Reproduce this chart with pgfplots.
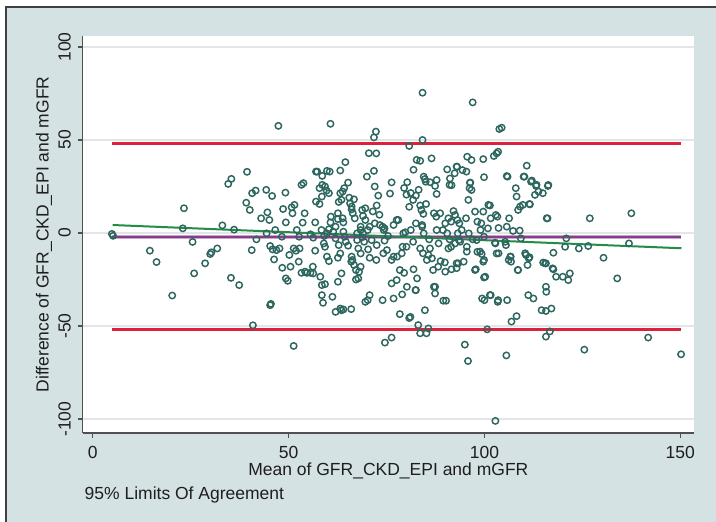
\documentclass[border=0pt]{standalone}
\usepackage{pgfplots}
\pgfplotsset{compat=1.18}
\usepackage{pgfplotstable}
\usepackage{fontspec}
\setmainfont{Liberation Sans}

\definecolor{bgblue}{RGB}{213,226,227}
\definecolor{marker}{RGB}{44,102,94}
\definecolor{loared}{RGB}{220,34,58}
\definecolor{meanpurple}{RGB}{135,60,140}
\definecolor{fitgreen}{RGB}{35,140,70}
\definecolor{gridgray}{RGB}{226,230,232}
\definecolor{axgray}{RGB}{80,80,80}
\definecolor{txt}{RGB}{30,30,30}

\newcommand{\lbl}{\fontsize{17.5bp}{20bp}\selectfont}

% mean (x) and difference (y)
\pgfplotstableread{
x y
4.9 -0.5
5.2 -1.5
14.6 -9.5
16.3 -15.6
20.3 -33.6
23.3 13.3
23.0 2.5
25.5 -4.8
25.9 -21.7
28.7 -16.3
30.0 -11.3
30.3 -10.4
31.8 -8.3
33.1 4.1
34.6 26.4
35.4 29.1
36.1 1.8
35.3 -24.1
37.4 -28.0
39.4 32.9
39.2 16.3
40.1 12.4
40.7 21.4
41.6 22.8
40.6 -9.2
41.8 -3.4
40.9 -49.6
43.0 7.9
44.3 23.2
45.8 19.9
44.6 11.1
45.1 7.0
44.4 -0.2
45.3 -7.0
45.9 -8.8
46.3 -14.2
45.5 -38.1
45.3 -38.8
46.6 1.6
46.9 -9.2
47.4 57.6
47.7 -8.3
48.4 -18.7
49.2 21.7
48.6 12.9
49.3 5.7
48.3 -2.0
49.3 -24.4
49.8 -25.7
50.2 -11.8
50.5 -18.1
50.8 13.8
51.5 15.1
51.3 -60.7
51.0 10.6
51.3 -8.3
51.9 -9.5
52.8 -8.3
52.6 -15.4
53.3 25.9
53.8 26.8
54.1 10.6
53.6 5.6
52.1 1.6
52.7 -2.0
53.3 -21.4
54.2 -20.8
54.7 -21.4
55.6 -21.4
56.2 -18.1
56.3 -21.7
56.8 -9.5
55.6 -0.7
56.3 -2.5
56.8 5.7
57.0 16.9
57.0 33.0
57.3 33.0
57.9 15.6
58.5 19.6
58.6 25.9
57.9 24.1
59.3 25.0
59.7 22.8
58.6 30.7
59.8 33.4
60.3 21.4
60.7 58.7
60.5 33.0
58.4 1.6
59.1 -1.6
59.8 -0.2
60.3 2.0
60.7 5.7
60.8 8.8
59.0 -5.6
59.3 -7.4
59.8 -12.7
60.3 -15.1
58.1 -23.5
58.5 -28.0
58.5 -33.4
58.8 -37.5
59.3 -27.5
61.2 -34.3
62.0 -42.4
62.6 -13.3
63.2 -11.0
62.8 -6.5
63.5 -21.7
62.6 -26.2
63.2 -40.6
63.5 -41.5
64.0 -41.1
63.2 33.6
62.8 16.7
63.2 21.4
63.8 22.3
64.2 24.1
63.5 17.8
62.6 7.5
62.6 10.6
63.8 7.9
64.0 5.7
62.0 3.4
61.4 0.7
62.0 -2.9
64.0 0.7
64.3 -2.0
64.6 -4.7
65.2 -6.8
64.5 38.1
65.2 27.1
65.5 19.0
65.7 16.0
66.1 14.2
66.7 18.1
66.1 12.7
66.4 10.6
66.9 7.9
66.1 -12.7
66.3 -14.5
66.7 -17.2
66.0 -15.4
66.0 -40.9
67.2 -19.9
67.8 -24.4
67.2 -25.0
68.0 -20.8
68.4 -18.1
68.4 -11.0
67.8 -8.3
67.5 -3.8
67.5 -0.2
68.4 1.6
68.4 3.4
69.0 -0.2
68.8 -2.3
69.3 -4.7
69.6 7.0
69.0 9.2
69.6 13.3
68.8 12.4
70.0 30.3
69.6 -37.0
70.2 -36.1
70.7 -33.4
70.7 -13.3
70.3 -8.8
70.2 1.6
70.7 3.4
70.5 42.9
84.2 75.4
97.0 70.2
72.3 54.5
71.8 51.4
84.2 50.0
103.8 55.9
104.4 56.6
80.8 46.8
72.4 42.8
86.5 40.1
95.6 41.0
96.7 39.2
99.7 39.7
102.4 41.4
103.1 42.8
103.5 43.7
82.7 39.3
81.9 34.0
71.8 33.4
90.5 34.2
93.0 35.6
94.4 33.8
92.4 32.1
95.4 33.0
110.8 36.2
99.9 30.0
105.7 30.6
110.0 30.3
111.9 27.6
113.2 25.3
116.3 25.8
72.0 25.0
76.3 27.2
80.3 27.3
84.8 29.0
86.1 27.3
87.8 28.5
87.4 25.3
91.2 29.3
91.6 25.7
96.3 27.0
96.7 23.1
72.9 20.1
75.9 21.2
79.5 24.2
80.1 20.6
81.2 21.5
82.5 20.1
87.8 21.0
108.0 24.1
108.2 19.6
112.9 20.5
113.8 22.3
114.9 21.4
72.5 14.8
71.5 11.6
73.2 9.8
80.8 14.1
83.6 14.8
83.9 12.4
84.4 10.3
88.7 10.6
92.1 11.8
92.5 9.7
95.9 17.8
97.6 11.5
99.7 11.5
101.4 14.8
102.9 9.7
103.3 8.8
109.1 14.2
109.8 15.1
111.6 15.4
116.1 7.9
77.6 7.0
76.8 4.3
82.5 5.2
90.8 7.9
93.6 5.2
94.2 1.6
99.2 5.2
100.9 2.5
103.6 2.7
107.3 1.1
72.0 5.2
73.3 4.3
74.5 2.5
79.3 -0.2
84.1 3.4
84.5 -0.2
87.8 1.6
90.0 5.2
90.5 -0.2
93.2 -0.2
96.0 -0.2
98.0 -3.8
99.9 -2.0
102.7 -5.2
105.3 -4.7
109.3 -2.9
120.6 -7.4
71.2 -3.8
72.5 -6.5
75.1 -9.2
74.2 -10.9
72.4 -14.5
76.3 -14.5
78.9 -10.9
80.1 -7.4
81.8 -4.7
83.6 -8.3
84.3 -10.9
86.1 -8.3
86.6 -13.6
88.3 -5.6
90.8 -8.3
92.5 -5.6
93.8 -4.7
95.5 -10.0
98.9 -10.0
99.9 -14.5
103.6 -10.9
106.7 -12.7
106.2 -14.5
110.4 -10.9
111.5 -13.0
115.0 -15.9
117.6 -10.6
78.4 -19.9
81.9 -19.5
82.8 -24.4
86.9 -19.9
89.9 -15.8
91.6 -19.5
93.3 -16.3
97.8 -19.5
100.2 -23.5
108.5 -19.9
115.7 -16.3
117.6 -19.5
120.0 -23.5
121.4 -25.3
76.3 -27.1
77.6 -25.3
74.0 -36.1
76.8 -35.2
80.2 -28.9
82.5 -30.7
87.4 -28.9
87.4 -32.5
89.5 -36.4
90.2 -36.4
99.4 -35.2
100.0 -36.1
101.4 -33.4
103.5 -36.1
105.8 -36.1
111.2 -33.4
112.5 -35.2
115.7 -28.9
115.8 -31.6
114.6 -41.5
115.7 -41.9
117.1 -40.6
78.4 -43.6
80.8 -45.7
84.8 -41.5
83.1 -49.5
83.6 -53.9
85.2 -53.9
85.7 -51.3
74.6 -58.9
76.3 -56.2
100.7 -51.8
106.9 -47.6
108.2 -44.7
115.7 -55.7
116.7 -52.9
95.0 -60.0
95.8 -68.8
105.6 -65.8
102.8 -101.0
74.0 3.4
74.3 1.6
74.5 -4.1
75.4 -1.6
76.8 -12.7
77.7 -12.7
78.0 7.0
79.5 -21.4
79.0 -33.0
79.1 -7.4
79.8 0.4
81.1 -45.1
81.2 1.6
81.8 17.8
82.4 -30.7
83.2 23.2
83.6 38.8
84.1 4.3
84.5 30.3
85.0 27.6
85.1 15.6
85.3 -14.5
85.7 -11.8
85.9 -3.4
87.1 10.6
87.7 8.8
87.1 -28.9
88.2 -18.1
88.8 -15.1
89.4 1.6
90.0 -20.8
91.1 25.9
91.5 6.1
91.1 -3.4
91.5 -7.4
92.9 35.7
93.1 7.0
93.5 -3.8
92.9 -16.3
92.9 -18.9
95.3 7.9
95.5 -7.4
94.7 -15.4
96.2 24.1
96.4 27.1
97.0 -3.4
97.6 -19.9
98.2 6.1
98.2 -10.1
99.0 1.6
99.3 -11.3
99.7 -15.4
99.9 -23.9
101.0 15.1
101.6 7.9
101.6 -33.4
102.8 -5.6
103.1 -11.0
103.4 -37.0
105.5 -6.5
105.7 3.4
105.9 30.3
106.3 7.9
106.6 -12.7
106.8 -15.4
108.6 12.4
108.6 -19.9
109.0 1.3
110.2 30.3
110.6 -11.8
111.0 -17.2
111.3 -13.6
111.5 15.6
112.1 28.2
113.3 25.9
115.5 -16.3
115.9 7.9
116.2 25.3
117.4 -19.0
118.3 -23.5
120.9 -2.9
121.8 -21.7
124.1 -8.3
125.5 -62.7
126.5 -7.0
126.9 7.9
130.4 -13.3
133.9 -24.4
136.9 -5.6
137.5 10.6
141.8 -56.2
150.2 -65.2
}\points

\begin{document}
\begin{tikzpicture}[x=1bp,y=1bp]
\useasboundingbox (-82.7,-89) rectangle (633.3,433);
\fill[white] (-82.7,-89) rectangle (633.3,433);
\fill[bgblue] (-76.7,-89) rectangle (633.3,426);
\draw[black!75, line width=1.2bp] (-76.7,-89) -- (-76.7,426) -- (633.3,426);

\begin{axis}[
  at={(0,0)}, anchor=south west,
  width=611.3bp, height=397bp,
  scale only axis,
  xmin=-2.55, xmax=153.5,
  ymin=-107.5, ymax=105.9,
  axis lines*=left,
  axis line style={axgray, line width=1.2bp, -},
  axis background/.style={fill=white},
  tick align=outside,
  major tick length=5bp,
  every tick/.style={axgray, line width=1.1bp},
  xtick={0,50,100,150},
  ytick={-100,-50,0,50,100},
  ymajorgrids,
  grid style={gridgray, line width=1.4bp},
  /pgf/number format/assume math mode=true,
  ticklabel style={font=\lbl, text=txt},
  xticklabel style={anchor=base, yshift=-21bp},
  yticklabel style={xshift=-7bp, rotate=90, anchor=base},
  clip=false,
]
\addplot[only marks, mark=o, mark size=3.2bp, mark options={marker, line width=1.45bp}]
  table[x=x, y=y] {\points};
\addplot[loared, line width=2.2bp] coordinates {(5,48.1) (150.3,48.1)};
\addplot[loared, line width=2.2bp] coordinates {(5,-51.9) (150.3,-51.9)};
\addplot[meanpurple!45, line width=4bp] coordinates {(5,-2.0) (150.3,-2.0)};
\addplot[meanpurple, line width=2bp] coordinates {(5,-2.0) (150.3,-2.0)};
\addplot[fitgreen, line width=2bp] coordinates {(5.1,4.3) (150.3,-8.2)};
\end{axis}

\node[anchor=base, text=txt, font=\lbl] at (305.6,-43) {Mean of GFR\_CKD\_EPI and mGFR};
\node[anchor=base west, inner sep=0, text=txt, font=\lbl] at (1.8,-67) {95\% Limits Of Agreement};
\node[anchor=base, rotate=90, text=txt, font=\lbl] at (-34,198.5) {Difference of GFR\_CKD\_EPI and mGFR};
\end{tikzpicture}
\end{document}
